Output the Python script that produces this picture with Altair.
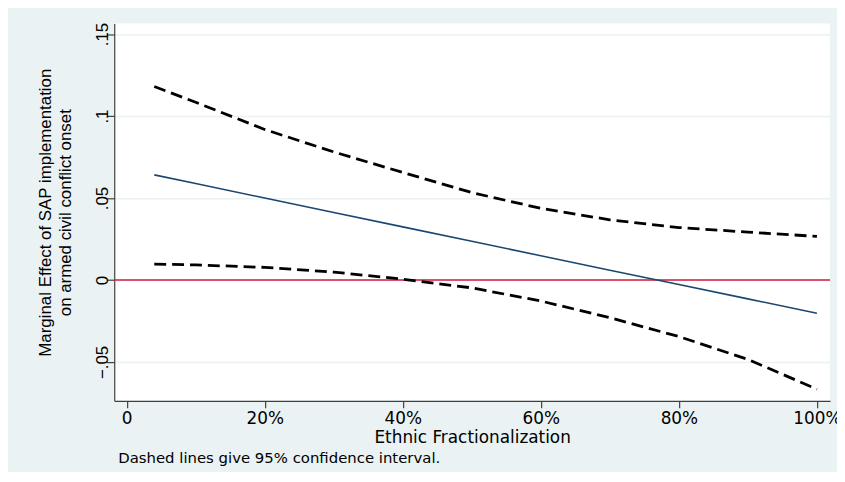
import altair as alt
import pandas as pd

# Ethnic fractionalization (share) at which the marginal effect was evaluated
frac = [0.04, 0.1, 0.2, 0.3, 0.4, 0.5, 0.6, 0.7, 0.8, 0.9, 1.0]
# Marginal effect of SAP implementation
effect = [0.0641, 0.0588, 0.0500, 0.0412, 0.0324, 0.0236, 0.0148, 0.0060, -0.0027, -0.0115, -0.0203]
# 95% confidence interval bounds
upper = [0.1180, 0.1084, 0.0918, 0.0781, 0.0656, 0.0533, 0.0437, 0.0367, 0.0320, 0.0292, 0.0266]
lower = [0.0097, 0.0092, 0.0077, 0.0048, 0.0005, -0.0048, -0.0128, -0.0230, -0.0345, -0.0484, -0.0666]

x_ticks = [0, 0.2, 0.4, 0.6, 0.8, 1.0]
y_ticks = [-0.05, 0, 0.05, 0.1, 0.15]
reference = [0]

df = pd.DataFrame({"frac": frac, "effect": effect, "upper": upper, "lower": lower})
ref = pd.DataFrame({"y": reference})

H_FONT = "DejaVu Sans"
V_FONT = "Liberation Sans"

x_scale = alt.Scale(domain=[-0.018, 1.019], nice=False, zero=False)
y_scale = alt.Scale(domain=[-0.0737, 0.1564], nice=False, zero=False)

x_axis = alt.Axis(
    values=x_ticks,
    labelExpr="datum.value == 0 ? '0' : format(datum.value, '.0%')",
    title="Ethnic Fractionalization",
    grid=False,
    domainColor="#404040",
    domainWidth=1.2,
    tickColor="#404040",
    tickWidth=1.2,
    tickSize=7,
    labelPadding=3,
    labelFont=H_FONT,
    labelFontSize=17,
    labelColor="black",
    labelFlush=False,
    titleFont=H_FONT,
    titleFontSize=17,
    titleFontWeight="normal",
    titleColor="black",
    titleBaseline="top",
    titleY=29,
)

y_axis = alt.Axis(
    values=y_ticks,
    labelExpr="replace(format(datum.value, '~g'), '0.', '.')",
    title=["Marginal Effect of SAP implementation", "on armed civil conflict onset"],
    grid=True,
    gridColor="#eaf2f3",
    gridWidth=1.5,
    domainColor="#404040",
    domainWidth=1.2,
    tickColor="#404040",
    tickWidth=1.2,
    tickSize=8,
    labelAngle=270,
    labelAlign="center",
    labelBaseline="alphabetic",
    labelPadding=-1,
    labelFont=V_FONT,
    labelFontSize=17,
    labelColor="black",
    labelFlush=False,
    titleFont=V_FONT,
    titleFontSize=17,
    titleFontWeight="normal",
    titleColor="black",
    titleAngle=270,
    titleAlign="center",
    titleBaseline="top",
    titleLineHeight=20,
    titleX=-77,
    titleY=190,
)

base = alt.Chart(df)

zero_line = alt.Chart(ref).mark_rule(color="#d7193f", strokeWidth=1.6).encode(
    y=alt.Y("y:Q", scale=y_scale, axis=y_axis)
)

est_line = base.mark_line(color="#1a476f", strokeWidth=1.6).encode(
    x=alt.X("frac:Q", scale=x_scale, axis=x_axis),
    y=alt.Y("effect:Q", scale=y_scale, axis=y_axis),
)

up_line = base.mark_line(color="black", strokeWidth=2.8, strokeDash=[12, 6]).encode(
    x=alt.X("frac:Q", scale=x_scale),
    y=alt.Y("upper:Q", scale=y_scale),
)

lo_line = base.mark_line(color="black", strokeWidth=2.8, strokeDash=[12, 6]).encode(
    x=alt.X("frac:Q", scale=x_scale),
    y=alt.Y("lower:Q", scale=y_scale),
)

chart = (
    alt.layer(zero_line, up_line, lo_line, est_line)
    .properties(
        width=721,
        height=380,
        padding={"left": 107, "top": 14, "right": 7, "bottom": 70},
        autosize=alt.AutoSizeParams(type="none"),
        background="#eaf2f3",
        title=alt.TitleParams(
            text="Dashed lines give 95% confidence interval.",
            orient="bottom",
            anchor="start",
            frame="group",
            font=H_FONT,
            fontSize=15,
            fontWeight="normal",
            color="black",
            offset=6,
            dx=4,
        ),
    )
    .configure_view(fill="white", stroke=None)
)

chart.save("out.html", embed_options={"renderer": "svg", "actions": False})
